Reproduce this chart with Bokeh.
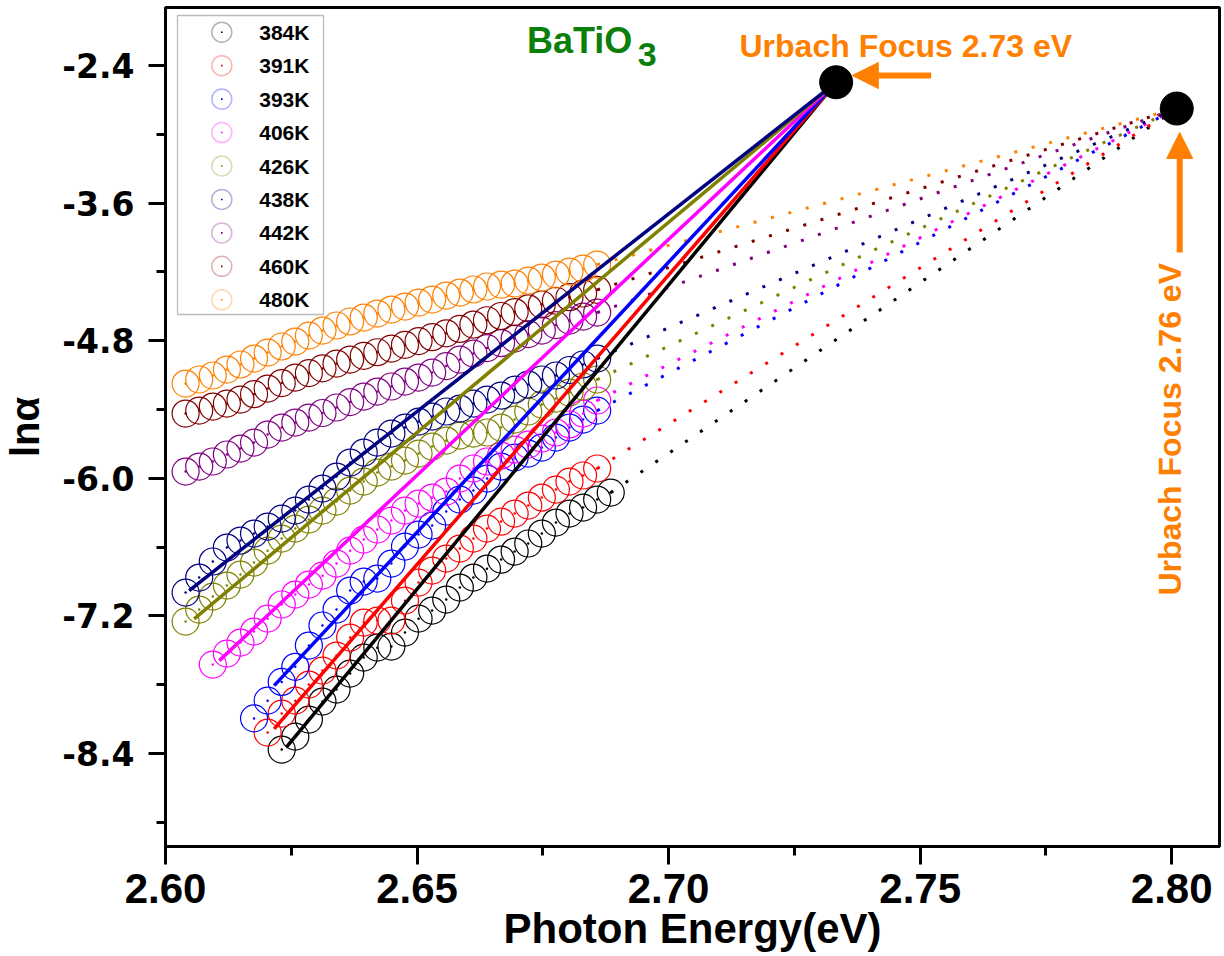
from bokeh.plotting import figure
from bokeh.models import (Range1d, FixedTicker, PrintfTickFormatter, BoxAnnotation,
                          Label, Arrow, NormalHead)
from bokeh.embed import file_html
from bokeh.resources import INLINE

# ---------------- data ----------------
series_labels = ["384K", "391K", "393K", "406K", "426K", "438K", "442K", "460K", "480K"]
series_colors = ["#000000", "#ff0000", "#0000ff", "#ff00ff", "#808000",
                 "#000080", "#800080", "#800000", "#ff8000"]

energy_grid = [2.6040, 2.6067, 2.6094, 2.6122, 2.6149, 2.6176, 2.6203, 2.6231,
               2.6258, 2.6285, 2.6312, 2.6340, 2.6367, 2.6394, 2.6421, 2.6449,
               2.6476, 2.6503, 2.6530, 2.6558, 2.6585, 2.6612, 2.6639, 2.6667,
               2.6694, 2.6721, 2.6748, 2.6776, 2.6803, 2.6830, 2.6858]

energy_384 = energy_grid[7:] + [2.6885]
energy_391 = energy_grid[6:]
energy_393 = energy_grid[5:]
energy_406 = energy_grid[2:]
energy_426 = energy_grid
energy_438 = energy_grid
energy_442 = energy_grid
energy_460 = energy_grid
energy_480 = energy_grid

ln_384 = [-8.365, -8.252, -8.103, -7.946, -7.842, -7.702, -7.563, -7.476, -7.467, -7.345,
          -7.223, -7.153, -7.057, -6.952, -6.865, -6.787, -6.708, -6.638, -6.568, -6.481,
          -6.385, -6.307, -6.255, -6.185, -6.124]
ln_391 = [-8.217, -8.051, -7.938, -7.798, -7.676, -7.545, -7.388, -7.257, -7.240, -7.240,
          -7.066, -6.909, -6.804, -6.699, -6.612, -6.525, -6.438, -6.377, -6.307, -6.237,
          -6.167, -6.098, -6.028, -5.975, -5.914]
ln_393 = [-8.093, -7.938, -7.775, -7.643, -7.458, -7.283, -7.144, -6.978, -6.900, -6.874,
          -6.743, -6.595, -6.490, -6.412, -6.289, -6.185, -6.106, -6.002, -5.897, -5.819,
          -5.784, -5.731, -5.644, -5.557, -5.487, -5.409]
ln_406 = [-7.624, -7.528, -7.432, -7.336, -7.223, -7.100, -7.013, -6.926, -6.848, -6.743,
          -6.630, -6.534, -6.446, -6.368, -6.281, -6.220, -6.167, -6.115, -6.002, -5.914,
          -5.853, -5.801, -5.749, -5.705, -5.653, -5.600, -5.530, -5.435, -5.321]
ln_426 = [-7.249, -7.144, -7.031, -6.935, -6.839, -6.734, -6.630, -6.525, -6.438, -6.359,
          -6.281, -6.202, -6.106, -6.028, -5.949, -5.897, -5.845, -5.784, -5.723, -5.670,
          -5.627, -5.609, -5.600, -5.557, -5.487, -5.417, -5.356, -5.304, -5.252, -5.199,
          -5.138]
ln_438 = [-6.996, -6.865, -6.725, -6.603, -6.542, -6.481, -6.420, -6.351, -6.281, -6.185,
          -6.089, -5.984, -5.862, -5.775, -5.688, -5.609, -5.557, -5.505, -5.461, -5.417,
          -5.391, -5.348, -5.313, -5.278, -5.226, -5.182, -5.138, -5.103, -5.055, -5.007,
          -4.955]
ln_442 = [-5.941, -5.897, -5.853, -5.792, -5.740, -5.688, -5.618, -5.557, -5.513, -5.470,
          -5.430, -5.382, -5.335, -5.287, -5.243, -5.199, -5.156, -5.121, -5.077, -5.021,
          -4.964, -4.912, -4.864, -4.820, -4.781, -4.742, -4.711, -4.663, -4.624, -4.589,
          -4.554]
ln_460 = [-5.435, -5.409, -5.374, -5.348, -5.313, -5.266, -5.217, -5.169, -5.121, -5.082,
          -5.041, -4.999, -4.964, -4.932, -4.900, -4.868, -4.836, -4.803, -4.769, -4.735,
          -4.697, -4.659, -4.621, -4.584, -4.550, -4.517, -4.484, -4.451, -4.420, -4.388,
          -4.356]
ln_480 = [-5.173, -5.138, -5.103, -5.051, -5.007, -4.955, -4.903, -4.850, -4.807, -4.755,
          -4.711, -4.667, -4.632, -4.598, -4.563, -4.528, -4.502, -4.467, -4.441, -4.406,
          -4.380, -4.353, -4.327, -4.310, -4.301, -4.275, -4.249, -4.223, -4.197, -4.171,
          -4.136]

series_energy = [energy_384, energy_391, energy_393, energy_406, energy_426,
                 energy_438, energy_442, energy_460, energy_480]
series_ln = [ln_384, ln_391, ln_393, ln_406, ln_426, ln_438, ln_442, ln_460, ln_480]

# Urbach foci
focus1_energy, focus1_ln = 2.7333, -2.546
focus2_energy, focus2_ln = 2.8010, -2.775

# linear fits converging on focus 1 (first six series)
fit_index = [0, 1, 2, 3, 4, 5]
fit_start_energy = [2.6240, 2.6216, 2.6216, 2.6107, 2.6057, 2.6047]
fit_start_ln = [-8.345, -8.184, -7.807, -7.589, -7.225, -6.978]

x_ticks = [2.60, 2.65, 2.70, 2.75, 2.80]
x_minor = [2.625, 2.675, 2.725, 2.775]
y_ticks = [-8.4, -7.2, -6.0, -4.8, -3.6, -2.4]
y_minor = [-9.0, -7.8, -6.6, -5.4, -4.2, -3.0]

# ---------------- figure ----------------
FONT = "Liberation Sans"
ORANGE = "#ff8000"

p = figure(width=1224, height=956, output_backend="svg", toolbar_location=None,
           x_range=Range1d(2.60, 2.8095), y_range=Range1d(-9.21, -1.894),
           min_border_left=163, min_border_right=5, min_border_top=7, min_border_bottom=110)
p.background_fill_color = "white"
p.border_fill_color = "white"
p.xgrid.visible = False
p.ygrid.visible = False
p.outline_line_color = "black"
p.outline_line_width = 3
p.outline_line_alpha = 1.0

for ax in (p.xaxis[0], p.yaxis[0]):
    ax.axis_line_width = 3
    ax.axis_line_color = "black"
    ax.major_tick_line_width = 3
    ax.minor_tick_line_width = 3
    ax.major_tick_in = 0
    ax.minor_tick_in = 0
    ax.major_label_text_font_style = "bold"
    ax.major_label_text_color = "black"
    ax.axis_label_text_font = FONT
    ax.axis_label_text_font_style = "bold"
    ax.axis_label_text_color = "black"

xa = p.xaxis[0]
xa.ticker = FixedTicker(ticks=x_ticks, minor_ticks=x_minor)
xa.formatter = PrintfTickFormatter(format="%.2f")
xa.major_tick_out = 18
xa.minor_tick_out = 9
xa.major_label_text_font = FONT
xa.major_label_text_font_size = "42px"
xa.major_label_standoff = 9
xa.axis_label = "Photon Energy(eV)"
xa.axis_label_text_font_size = "42px"
xa.axis_label_standoff = -1

ya = p.yaxis[0]
ya.ticker = FixedTicker(ticks=y_ticks, minor_ticks=y_minor)
ya.formatter = PrintfTickFormatter(format="%.1f")
ya.major_tick_out = 17
ya.minor_tick_out = 9
ya.major_label_text_font = "DejaVu Sans"
ya.major_label_text_font_size = "33px"
ya.major_label_standoff = 14
ya.axis_label = "lnα"
ya.axis_label_text_font_size = "40px"
ya.axis_label_standoff = 12

# dotted extrapolations to focus 2 (drawn first, behind)
for i in range(len(series_labels)):
    p.line([series_energy[i][-1], focus2_energy], [series_ln[i][-1], focus2_ln],
           line_color=series_colors[i], line_width=3, line_dash="3 15")

# open circles with centre dot
for i in range(len(series_labels)):
    p.scatter(series_energy[i], series_ln[i], marker="circle", size=27,
              fill_alpha=0, line_color=series_colors[i], line_width=1.2)
    p.scatter(series_energy[i], series_ln[i], marker="circle", size=2.5,
              fill_color=series_colors[i], line_color=None)

# linear fits to focus 1
for k, i in enumerate(fit_index):
    p.line([fit_start_energy[k], focus1_energy], [fit_start_ln[k], focus1_ln],
           line_color=series_colors[i], line_width=3.5)

# focus points
p.scatter([focus1_energy, focus2_energy], [focus1_ln, focus2_ln], marker="circle",
          size=33, fill_color="black", line_color="black")

# ---------------- legend (screen units, relative to the frame) ----------------
LEG_LEFT, LEG_RIGHT, LEG_TOP, LEG_BOTTOM = 12, 158, 831, 532
ROW0, PITCH = 814.3, 33.45
SYM_X, SYM_R, TXT_X = 56.3, 10, 93.7

p.add_layout(BoxAnnotation(left=LEG_LEFT, right=LEG_RIGHT, top=LEG_TOP, bottom=LEG_BOTTOM,
                           left_units="screen", right_units="screen",
                           top_units="screen", bottom_units="screen",
                           fill_color="white", fill_alpha=1.0,
                           line_color="#222222", line_width=1.3, level="annotation"))
for k, lab in enumerate(series_labels):
    cy = ROW0 - k * PITCH
    p.add_layout(BoxAnnotation(left=SYM_X - SYM_R, right=SYM_X + SYM_R,
                               top=cy + SYM_R, bottom=cy - SYM_R,
                               left_units="screen", right_units="screen",
                               top_units="screen", bottom_units="screen",
                               border_radius=SYM_R, fill_alpha=0.0,
                               line_color=series_colors[k], line_width=1.5,
                               level="annotation"))
    p.add_layout(BoxAnnotation(left=SYM_X - 0.8, right=SYM_X + 0.8,
                               top=cy + 0.8, bottom=cy - 0.8,
                               left_units="screen", right_units="screen",
                               top_units="screen", bottom_units="screen",
                               fill_color=series_colors[k], fill_alpha=1.0,
                               line_color=None, level="annotation"))
    p.add_layout(Label(x=TXT_X, y=cy, x_units="screen", y_units="screen", text=lab,
                       text_font=FONT, text_font_style="bold", text_font_size="21px",
                       text_color="black", text_baseline="middle", text_align="left"))

# ---------------- annotations ----------------
GREEN = "#0a800a"
p.add_layout(Label(x=2.67183, y=-2.295, y_offset=13, text="BaTiO", text_font=FONT,
                   text_font_style="bold", text_font_size="36px", text_color=GREEN,
                   text_baseline="alphabetic", text_align="left"))
p.add_layout(Label(x=2.69385, y=-2.426, y_offset=14, text="3", text_font=FONT,
                   text_font_style="bold", text_font_size="34px", text_color=GREEN,
                   text_baseline="alphabetic", text_align="left"))
p.add_layout(Label(x=2.71409, y=-2.330, y_offset=12, text="Urbach Focus  2.73 eV",
                   text_font=FONT, text_font_style="bold", text_font_size="32px",
                   text_color=ORANGE, text_baseline="alphabetic", text_align="left"))
p.add_layout(Label(x=2.80238, y=-7.022, x_offset=-14, text="Urbach Focus 2.76 eV",
                   text_font=FONT, text_font_style="bold", text_font_size="32px",
                   text_color=ORANGE, text_baseline="alphabetic", text_align="left",
                   angle=90, angle_units="deg"))

p.add_layout(Arrow(x_start=2.75218, y_start=-2.487, x_end=2.73651, y_end=-2.487,
                   line_color=ORANGE, line_width=6,
                   end=NormalHead(size=26, fill_color=ORANGE, line_color=ORANGE)))
p.add_layout(Arrow(x_start=2.80159, y_start=-4.031, x_end=2.80159, y_end=-2.984,
                   line_color=ORANGE, line_width=6,
                   end=NormalHead(size=26, fill_color=ORANGE, line_color=ORANGE)))

open("out.html", "w").write(file_html(p, INLINE))
